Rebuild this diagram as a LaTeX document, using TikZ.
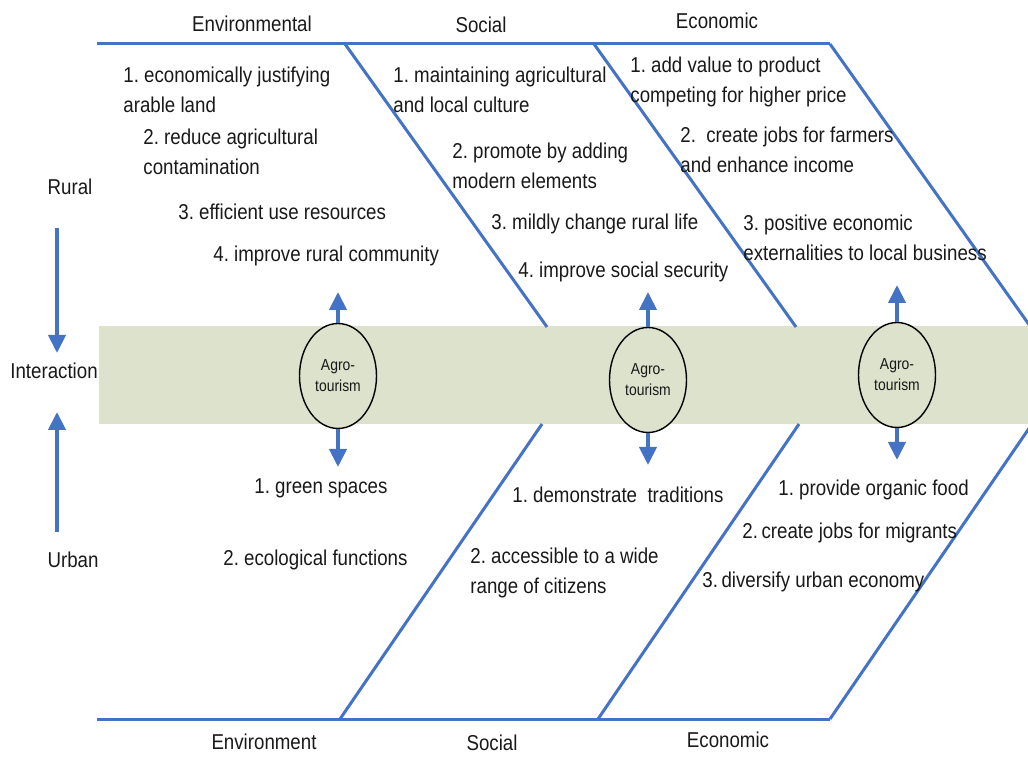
\documentclass[tikz,border=0pt]{standalone}
\usepackage{fontspec}
\setmainfont{Liberation Sans}[FakeStretch=0.87]
\frenchspacing
\usetikzlibrary{arrows.meta,shapes.geometric}
\definecolor{lineblue}{RGB}{68,114,196}
\definecolor{bandgreen}{RGB}{221,226,204}
\definecolor{txt}{RGB}{25,25,25}
\begin{document}
\begin{tikzpicture}[x=0.5pt,y=-0.5pt,
  lbl/.style={font=\fontsize{10.75}{15}\selectfont, text=txt, inner sep=0pt, align=left},
  item/.style={lbl, anchor=north west},
  edge/.style={draw=lineblue, line width=1.5pt},
  arr/.style={draw=lineblue, line width=2pt, -{Triangle[width=8.5pt,length=9pt]}},
  agro/.style={ellipse, draw=black, line width=0.7pt, fill=bandgreen, minimum width=38.5pt, minimum height=52.5pt, inner sep=0pt, font=\fontsize{8}{10.5}\selectfont, text=txt, align=center}]
\useasboundingbox (0,0) rectangle (1028,758);
% band
\fill[bandgreen] (99,326) rectangle (1035,424);
% frame lines
\coordinate (t0) at (97,44);
\coordinate (t1) at (345,44);
\coordinate (t2) at (594,44);
\coordinate (t3) at (830,44);
\coordinate (t1e) at (547,327);
\coordinate (t2e) at (796,327);
\coordinate (t3e) at (1030,326);
\coordinate (b0) at (97,719);
\coordinate (b1) at (340,719);
\coordinate (b2) at (598,719);
\coordinate (b3) at (830,719);
\coordinate (b1e) at (542,424);
\coordinate (b2e) at (799,424);
\coordinate (b3e) at (1032,424);
\draw[edge] (t0) -- (t3);
\draw[edge] (t1) -- (t1e);
\draw[edge] (t2) -- (t2e);
\draw[edge] (t3) -- (t3e);
\draw[edge] (b0) -- (b3);
\draw[edge] (b1) -- (b1e);
\draw[edge] (b2) -- (b2e);
\draw[edge] (b3) -- (b3e);
% headings
\node[lbl] (hEnv) at (252,24) {Environmental};
\node[lbl] (hSoc) at (481,25) {Social};
\node[lbl] (hEco) at (717,21) {Economic};
\node[lbl] (fEnv) at (264,742) {Environment};
\node[lbl] (fSoc) at (492,743) {Social};
\node[lbl] (fEco) at (728,740) {Economic};
% side labels
\node[lbl] (rural) at (70,187) {Rural};
\node[lbl] (inter) at (54,371) {Interaction};
\node[lbl] (urban) at (73,560) {Urban};
\coordinate (ra) at (57,228);
\coordinate (rb) at (57,353);
\coordinate (ua) at (57,532);
\coordinate (ub) at (57,412);
\draw[arr] (ra) -- (rb);
\draw[arr] (ua) -- (ub);
% agro-tourism ellipses
\node[agro] (e1) at (338,376) {Agro-\\tourism};
\node[agro] (e2) at (648,380) {Agro-\\tourism};
\node[agro] (e3) at (897,375) {Agro-\\tourism};
\coordinate (e1u) at (338,292);
\coordinate (e1d) at (338,467);
\coordinate (e2u) at (648,292);
\coordinate (e2d) at (648,465);
\coordinate (e3u) at (897,285);
\coordinate (e3d) at (897,460);
\draw[arr] (e1.north) -- (e1u);
\draw[arr] (e1.south) -- (e1d);
\draw[arr] (e2.north) -- (e2u);
\draw[arr] (e2.south) -- (e2d);
\draw[arr] (e3.north) -- (e3u);
\draw[arr] (e3.south) -- (e3d);
% environmental (rural)
\node[item] (env1) at (123,67) {1. economically justifying\\arable land};
\node[item] (env2) at (143,129) {2. reduce agricultural\\contamination};
\node[item] (env3) at (178,204) {3. efficient use resources};
\node[item] (env4) at (213,246) {4. improve rural community};
% social (rural)
\node[item] (soc1) at (393,67) {1. maintaining agricultural\\and local culture};
\node[item] (soc2) at (452,143) {2. promote by adding\\modern elements};
\node[item] (soc3) at (491,214) {3. mildly change rural life};
\node[item] (soc4) at (518,262) {4. improve social security};
% economic (rural)
\node[item] (eco1) at (630,57) {1. add value to product\\competing for higher price};
\node[item] (eco2) at (680,127) {2.\ \ create jobs for farmers\\and enhance income};
\node[item] (eco3) at (743,215) {3. positive economic\\externalities to local business};
% urban side
\node[item] (uenv1) at (254,478) {1. green spaces};
\node[item] (uenv2) at (223,550) {2. ecological functions};
\node[item] (usoc1) at (512,487) {1. demonstrate\ \ traditions};
\node[item] (usoc2) at (470,548) {2. accessible to a wide\\range of citizens};
\node[item] (ueco1) at (778,480) {1. provide organic food};
\node[item] (ueco2) at (742,523) {2.\,create jobs for migrants};
\node[item] (ueco3) at (702,572) {3.\,diversify urban economy};
\end{tikzpicture}
\end{document}
